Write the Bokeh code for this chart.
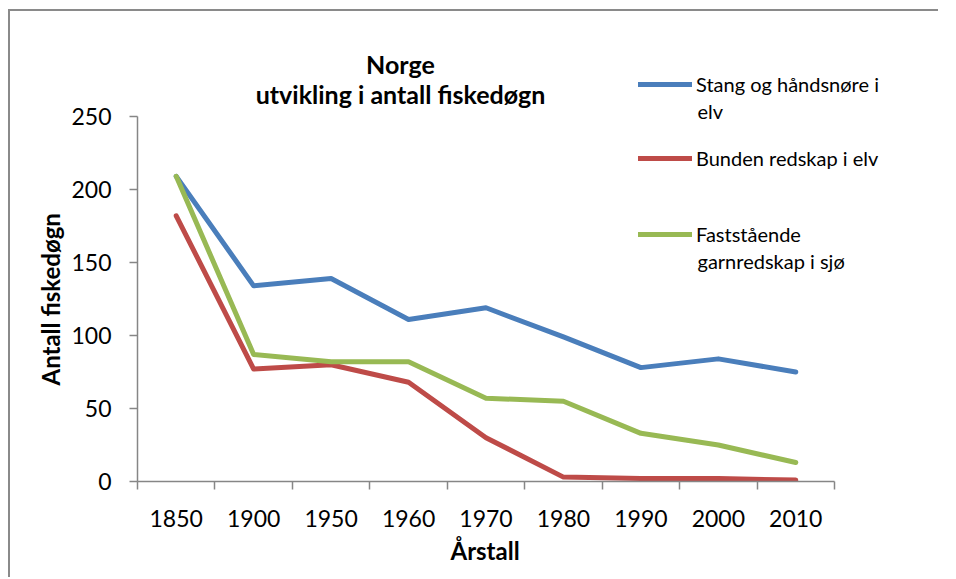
from bokeh.plotting import figure
from bokeh.models import (Range1d, LinearAxis, FixedTicker, Legend, LegendItem, Label,
                          CustomJSTickFormatter, Title)
from bokeh.embed import file_html
from bokeh.resources import INLINE

years = ["1850", "1900", "1950", "1960", "1970", "1980", "1990", "2000", "2010"]
stang = [209, 134, 139, 111, 119, 99, 78, 84, 75]
bunden = [182, 77, 80, 68, 30, 3, 2, 2, 1]
fast = [209, 87, 82, 82, 57, 55, 33, 25, 13]
y_ticks = [0, 50, 100, 150, 200, 250]
y_max = 250
# legend names, split where the reference wraps them
series_lines = [["Stang og håndsnøre i", "elv"],
                ["Bunden redskap i elv"],
                ["Faststående", "garnredskap i sjø"]]
colors = ["#4A7EBB", "#BE4B48", "#98B954"]

FONT = "Lato"
AX = "#868686"

# category slots: each year occupies one unit, centred at i + 0.5
n = len(years)
x_pos = [i + 0.5 for i in range(n)]

# layout (pixels): frame is larger than the axes so that title/legend are not clipped
W, H = 930, 568
FL, FR, FT, FB = 127, 910, 19, 470          # frame box in canvas pixels
AXIS_RIGHT, AXIS_TOP = 824, 105             # pixel of last category edge / y=250
x_end = n * (FR - FL) / (AXIS_RIGHT - FL)
y_end = y_max * (FB - FT) / (FB - AXIS_TOP)

p = figure(width=W, height=H, x_range=Range1d(0, x_end), y_range=Range1d(0, y_end),
           x_axis_location=None, output_backend="svg", toolbar_location=None,
           min_border_left=FL, min_border_right=W - FR, min_border_top=FT, min_border_bottom=H - FB,
           styles={"border-left": "2px solid #8a8a8a", "border-top": "2px solid #8a8a8a",
                   "margin-left": "8px", "margin-top": "9px"})
p.outline_line_color = None
p.grid.grid_line_color = None
p.background_fill_color = "white"
p.border_fill_color = "white"

# tick marks at the category boundaries, without labels
tick_axis = LinearAxis(ticker=FixedTicker(ticks=list(range(n + 1))), bounds=(0, n),
                       formatter=CustomJSTickFormatter(code="return ''"),
                       major_label_text_font_size="1px", major_label_standoff=0,
                       major_tick_out=8, major_tick_in=0, minor_tick_line_color=None,
                       axis_line_color=AX, major_tick_line_color=AX, axis_line_width=1.5,
                       major_tick_line_width=1.5)
p.add_layout(tick_axis, "below")
lab_axis = LinearAxis(ticker=FixedTicker(ticks=x_pos),
                      formatter=CustomJSTickFormatter(args=dict(labels=years),
                                                      code="return labels[Math.floor(tick)]"),
                      axis_line_color=None, major_tick_line_color=None, minor_tick_line_color=None,
                      major_tick_out=0, major_tick_in=0, major_label_standoff=20,
                      major_label_text_font=FONT, major_label_text_font_size="23px",
                      major_label_text_color="black")
p.add_layout(lab_axis, "below")
p.add_layout(Title(text="Årstall", align="left", offset=313, standoff=8,
                   text_font=FONT, text_font_size="24px", text_font_style="bold",
                   text_color="black"), "below")

ya = p.yaxis[0]
ya.ticker = FixedTicker(ticks=y_ticks)
ya.bounds = (0, y_max)
ya.major_tick_out = 8
ya.major_tick_in = 0
ya.minor_tick_line_color = None
ya.axis_line_color = AX
ya.major_tick_line_color = AX
ya.axis_line_width = 1.5
ya.major_tick_line_width = 1.5
ya.major_label_standoff = 18
ya.major_label_text_font = FONT
ya.major_label_text_font_size = "23px"
ya.major_label_text_color = "black"
p.add_layout(Title(text="Antall fiskedøgn", align="left", offset=96, standoff=8,
                   text_font=FONT, text_font_size="24px", text_font_style="bold",
                   text_color="black"), "left")

renderers = []
for vals, c in zip([stang, bunden, fast], colors):
    r = p.line(x_pos, vals, line_width=5, line_color=c, line_join="round", line_cap="round")
    renderers.append(r)

# legend: one block per series; second line of a wrapped name as a label below it
LEG_X = 501
legend_glyph_y = [397, 323, 247]   # frame-relative pixel height of each legend line
for r, lines, gy in zip(renderers, series_lines, legend_glyph_y):
    lg = Legend(items=[LegendItem(label=lines[0], renderers=[r])], location=(LEG_X, gy - 12),
                padding=0, margin=0, border_line_color=None, background_fill_alpha=0,
                glyph_width=54, glyph_height=24, label_standoff=4,
                label_text_font=FONT, label_text_font_size="20px", label_text_color="black",
                label_height=24, spacing=0)
    p.add_layout(lg, "center")
    for k, extra in enumerate(lines[1:], start=1):
        p.add_layout(Label(x=LEG_X + 59, y=gy - 26 * k, x_units="screen", y_units="screen",
                           text=extra, text_align="left", text_baseline="middle",
                           text_font=FONT, text_font_size="20px", text_color="black"))

p.add_layout(Label(x=263, y=418, x_units="screen", y_units="screen", text="Norge",
                   text_align="center", text_baseline="alphabetic", text_font=FONT,
                   text_font_size="25px", text_font_style="bold", text_color="black"))
p.add_layout(Label(x=263, y=388, x_units="screen", y_units="screen",
                   text="utvikling i antall fiskedøgn",
                   text_align="center", text_baseline="alphabetic", text_font=FONT,
                   text_font_size="25px", text_font_style="bold", text_color="black"))

open("out.html", "w").write(file_html(p, INLINE))
